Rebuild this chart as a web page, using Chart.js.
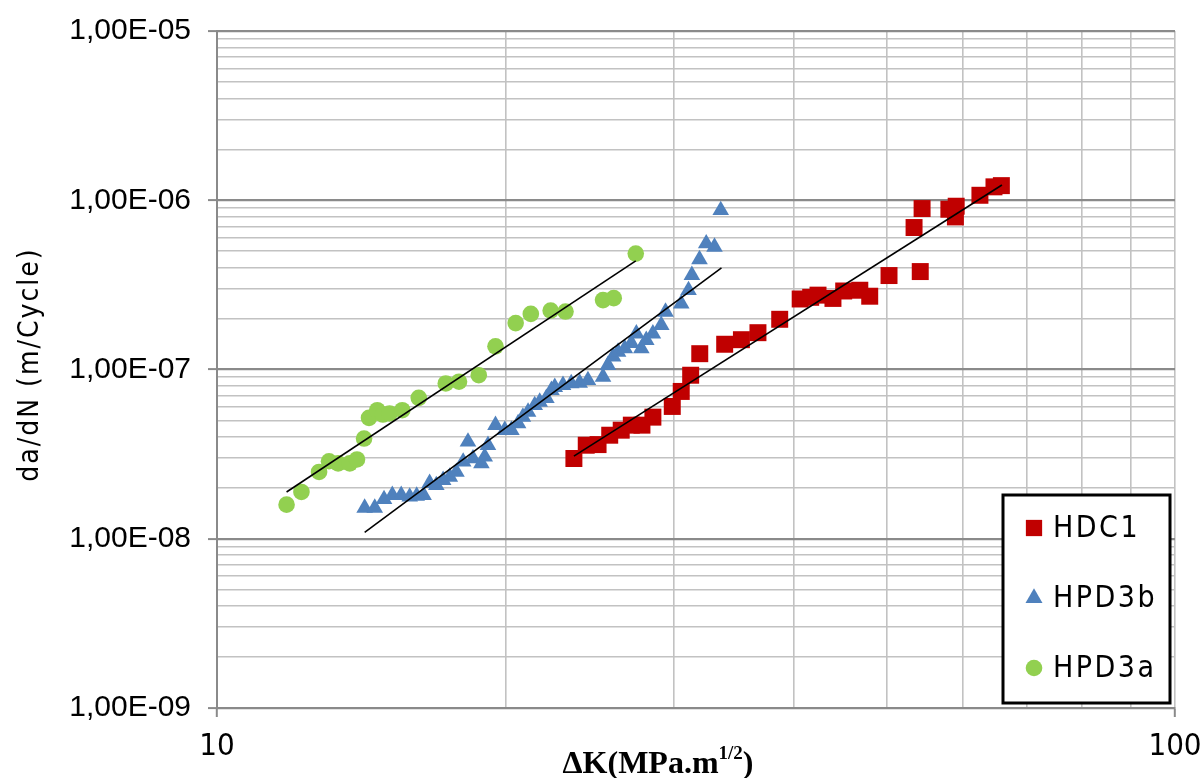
<!DOCTYPE html>
<html>
<head>
<meta charset="utf-8">
<script src="https://cdn.jsdelivr.net/npm/chart.js@4.4.1/dist/chart.umd.min.js"></script>
<style>
html,body{margin:0;padding:0;background:#fff;}
#wrap{width:1201px;height:778px;position:relative;}
</style>
</head>
<body>
<div id="wrap"><canvas id="c" width="1201" height="778"></canvas></div>
<script>
// ---------- data ----------
const seriesNames = ['HDC1', 'HPD3b', 'HPD3a'];

const hdc1K = [23.58,24.29,24.99,25.70,26.42,27.07,27.77,28.51,29.87,30.52,31.22,31.91,33.88,35.27,36.70,38.67,40.62,41.66,42.40,43.95,45.10,46.88,48.01,50.29,53.41,54.21,54.45,58.07,58.99,59.10,62.57,64.72,65.88];
const hdc1Rate = [2.98e-8,3.57e-8,3.60e-8,4.09e-8,4.38e-8,4.69e-8,4.69e-8,5.23e-8,6.05e-8,7.42e-8,9.25e-8,1.24e-7,1.41e-7,1.50e-7,1.65e-7,1.98e-7,2.61e-7,2.67e-7,2.75e-7,2.63e-7,2.91e-7,2.94e-7,2.71e-7,3.59e-7,6.90e-7,3.79e-7,8.93e-7,8.85e-7,7.97e-7,9.22e-7,1.07e-6,1.20e-6,1.22e-6];

const hpd3bK = [14.26,14.61,14.94,15.24,15.57,15.89,16.16,16.43,16.67,16.94,17.22,17.50,17.78,18.07,18.28,18.50,18.88,19.03,19.18,19.53,19.97,20.29,20.62,20.86,21.12,21.46,21.72,22.07,22.34,22.52,22.97,23.43,23.91,24.39,25.29,25.59,25.91,26.22,26.65,27.07,27.40,27.73,28.06,28.51,29.09,29.39,30.52,31.06,31.31,31.89,32.41,33.06,33.56];
const hpd3bRate = [1.52e-8,1.52e-8,1.71e-8,1.81e-8,1.81e-8,1.77e-8,1.79e-8,1.81e-8,2.13e-8,2.07e-8,2.22e-8,2.32e-8,2.48e-8,2.85e-8,3.74e-8,2.98e-8,2.79e-8,3.05e-8,3.57e-8,4.69e-8,4.38e-8,4.38e-8,4.80e-8,5.25e-8,5.62e-8,6.15e-8,6.44e-8,6.77e-8,7.55e-8,7.86e-8,8.08e-8,8.27e-8,8.33e-8,8.64e-8,9.04e-8,1.06e-7,1.19e-7,1.27e-7,1.33e-7,1.43e-7,1.63e-7,1.33e-7,1.49e-7,1.63e-7,1.83e-7,2.19e-7,2.45e-7,2.94e-7,3.61e-7,4.47e-7,5.55e-7,5.30e-7,8.73e-7];

const hpd3aK = [11.82,12.25,12.78,13.09,13.38,13.76,14.00,14.24,14.41,14.70,14.90,15.14,15.61,16.24,17.33,17.89,18.76,19.53,20.50,21.26,22.30,23.11,25.29,25.95,27.36];
const hpd3aRate = [1.59e-8,1.89e-8,2.48e-8,2.87e-8,2.79e-8,2.79e-8,2.94e-8,3.91e-8,5.18e-8,5.75e-8,5.42e-8,5.50e-8,5.75e-8,6.80e-8,8.27e-8,8.47e-8,9.25e-8,1.37e-7,1.88e-7,2.13e-7,2.23e-7,2.20e-7,2.57e-7,2.64e-7,4.84e-7];

// trend line end points
const hdc1TrendK = [23.58, 65.97];
const hdc1TrendRate = [3.08e-8, 1.23e-6];
const hpd3bTrendK = [14.26, 33.62];
const hpd3bTrendRate = [1.09e-8, 3.98e-7];
const hpd3aTrendK = [11.82, 27.36];
const hpd3aTrendRate = [1.89e-8, 4.38e-7];

// axis ticks / titles
const xTickValues = [10, 100];
const xTickLabels = ['10', '100'];
const yTickValues = [1e-9, 1e-8, 1e-7, 1e-6, 1e-5];
const yTickLabels = ['1,00E-09', '1,00E-08', '1,00E-07', '1,00E-06', '1,00E-05'];
const yTitle = 'da/dN (m/Cycle)';
const xTitleParts = ['\u0394K(MPa.m', '1/2', ')'];

// ---------- helpers ----------
const NARROW = "'DejaVu Sans Condensed', 'Liberation Sans Narrow', 'Liberation Sans', sans-serif";
const REG = "'Liberation Sans', Arial, sans-serif";
const pts = (xs, ys) => xs.map((x, i) => ({x: x, y: ys[i]}));
const sameLog = (a, b) => Math.abs(Math.log10(a) - Math.log10(b)) < 1e-6;
const isDecade = v => Math.abs(Math.log10(v) - Math.round(Math.log10(v))) < 1e-6;
function logGrid(min, max) {
  const out = [];
  const e0 = Math.round(Math.log10(min)), e1 = Math.round(Math.log10(max));
  for (let e = e0; e < e1; e++) for (let k = 1; k < 10; k++) out.push({value: k * Math.pow(10, e)});
  out.push({value: max});
  return out;
}
function labelFor(values, labels, v) {
  const i = values.findIndex(t => sameLog(t, v));
  return i >= 0 ? labels[i] : '';
}
function patch(scale, method, spacing, dx, dy) {
  const orig = scale[method].bind(scale);
  scale[method] = function (...args) {
    const c = this.ctx; const prev = c.letterSpacing;
    c.save();
    c.translate(dx || 0, dy || 0);
    c.letterSpacing = spacing;
    try { orig(...args); } finally { c.letterSpacing = prev; c.restore(); }
  };
}
function noPad(s) { s.paddingTop = 0; s.paddingBottom = 0; s.paddingLeft = 0; s.paddingRight = 0; }

const MAJOR = '#8a8a8a', MINOR = '#c2c2c2';

// custom legend drawn inside the plot area
const boxLegend = {
  id: 'boxLegend',
  afterDraw(chart) {
    const c = chart.ctx, a = chart.chartArea;
    const x0 = a.right - 172, y0 = a.bottom - 213, w = 167, h = 208;
    c.save();
    c.fillStyle = '#fff';
    c.fillRect(x0, y0, w, h);
    c.lineWidth = 3; c.strokeStyle = '#000';
    c.strokeRect(x0, y0, w, h);
    const items = chart.data.datasets.filter(d => !d.isTrend);
    items.forEach((d, i) => {
      const cy = y0 + 33 + i * 70;
      c.fillStyle = d.backgroundColor;
      Chart.helpers.drawPoint(c, {pointStyle: d.pointStyle, radius: d.legendRadius, rotation: 0, borderWidth: 0}, x0 + 31, cy);
      c.fillStyle = '#000';
      c.font = '30px ' + NARROW;
      c.textAlign = 'left'; c.textBaseline = 'middle';
      c.letterSpacing = '2.5px';
      c.fillText(d.label, x0 + 50, cy + 1);
      c.letterSpacing = '0px';
    });
    c.restore();
  }
};

const ctx = document.getElementById('c').getContext('2d');
new Chart(ctx, {
  type: 'scatter',
  data: {
    datasets: [
      {label: 'trend ' + seriesNames[0], isTrend: true, data: pts(hdc1TrendK, hdc1TrendRate), showLine: true, borderColor: '#000', borderWidth: 1.6, pointRadius: 0, order: 0},
      {label: 'trend ' + seriesNames[1], isTrend: true, data: pts(hpd3bTrendK, hpd3bTrendRate), showLine: true, borderColor: '#000', borderWidth: 1.6, pointRadius: 0, order: 0},
      {label: 'trend ' + seriesNames[2], isTrend: true, data: pts(hpd3aTrendK, hpd3aTrendRate), showLine: true, borderColor: '#000', borderWidth: 1.6, pointRadius: 0, order: 0},
      {label: seriesNames[0], data: pts(hdc1K, hdc1Rate), pointStyle: 'rect', pointRadius: 12, backgroundColor: '#C00000', borderColor: '#C00000', borderWidth: 0, legendRadius: 11.5, order: 1},
      {label: seriesNames[1], data: pts(hpd3bK, hpd3bRate), pointStyle: 'triangle', pointRadius: 9.6, backgroundColor: '#4F81BD', borderColor: '#4F81BD', borderWidth: 0, legendRadius: 9.8, order: 1},
      {label: seriesNames[2], data: pts(hpd3aK, hpd3aRate), pointStyle: 'circle', pointRadius: 8.3, backgroundColor: '#92D050', borderColor: '#92D050', borderWidth: 0, legendRadius: 8.3, order: 1}
    ]
  },
  options: {
    responsive: false,
    animation: false,
    events: [],
    layout: {padding: {top: 31, right: 26, bottom: 0, left: 0}},
    plugins: {legend: {display: false}, tooltip: {enabled: false}},
    scales: {
      x: {
        type: 'logarithmic', position: 'bottom', min: 10, max: 100,
        afterBuildTicks: s => { s.ticks = logGrid(10, 100); },
        afterFit: s => {
          s.height = 70;
          noPad(s);
          if (!s.$p) {
            s.$p = true;
            s.drawTitle = function () {
              const c = this.ctx, a = this.chart.chartArea;
              c.save();
              c.fillStyle = '#000'; c.textAlign = 'left'; c.textBaseline = 'alphabetic';
              const mainF = 'bold 32px "Liberation Serif", serif', supF = 'bold 19px "Liberation Serif", serif';
              c.font = mainF; const w1 = c.measureText(xTitleParts[0]).width; const w3 = c.measureText(xTitleParts[2]).width;
              c.font = supF; const w2 = c.measureText(xTitleParts[1]).width;
              let x = (a.left + a.right) / 2 - 38 - (w1 + w2 + w3) / 2;
              const by = a.bottom + 65;
              c.font = mainF; c.fillText(xTitleParts[0], x, by); x += w1;
              c.font = supF; c.fillText(xTitleParts[1], x, by - 14); x += w2;
              c.font = mainF; c.fillText(xTitleParts[2], x, by);
              c.restore();
            };
          }
        },
        title: {display: true, text: xTitleParts.join('')},
        ticks: {
          autoSkip: false, maxRotation: 0, padding: 11,
          font: {family: NARROW, size: 31},
          color: '#000',
          callback: v => labelFor(xTickValues, xTickLabels, v)
        },
        grid: {
          color: MINOR,
          lineWidth: 1.6,
          tickLength: 9,
          tickColor: c => (c.tick && isDecade(c.tick.value)) ? MAJOR : 'rgba(0,0,0,0)',
          tickWidth: 2
        },
        border: {display: true, color: MAJOR, width: 2}
      },
      y: {
        type: 'logarithmic', position: 'left', min: 1e-9, max: 1e-5,
        afterBuildTicks: s => { s.ticks = logGrid(1e-9, 1e-5); },
        afterFit: s => {
          s.width = 217;
          noPad(s);
          if (!s.$p) { s.$p = true; patch(s, 'drawTitle', '2px', 0, -5); }
        },
        title: {display: true, text: yTitle, font: {family: NARROW, size: 28}, color: '#000', padding: {top: 14, bottom: 0}},
        ticks: {
          autoSkip: false, padding: 17,
          font: {family: REG, size: 30},
          color: '#000',
          callback: v => labelFor(yTickValues, yTickLabels, v)
        },
        grid: {
          color: c => (c.tick && isDecade(c.tick.value)) ? MAJOR : MINOR,
          lineWidth: c => (c.tick && isDecade(c.tick.value)) ? 2.2 : 1.6,
          tickLength: 9,
          tickColor: c => (c.tick && isDecade(c.tick.value)) ? MAJOR : 'rgba(0,0,0,0)',
          tickWidth: 2
        },
        border: {display: true, color: MAJOR, width: 2}
      }
    }
  },
  plugins: [boxLegend]
});
</script>
</body>
</html>
